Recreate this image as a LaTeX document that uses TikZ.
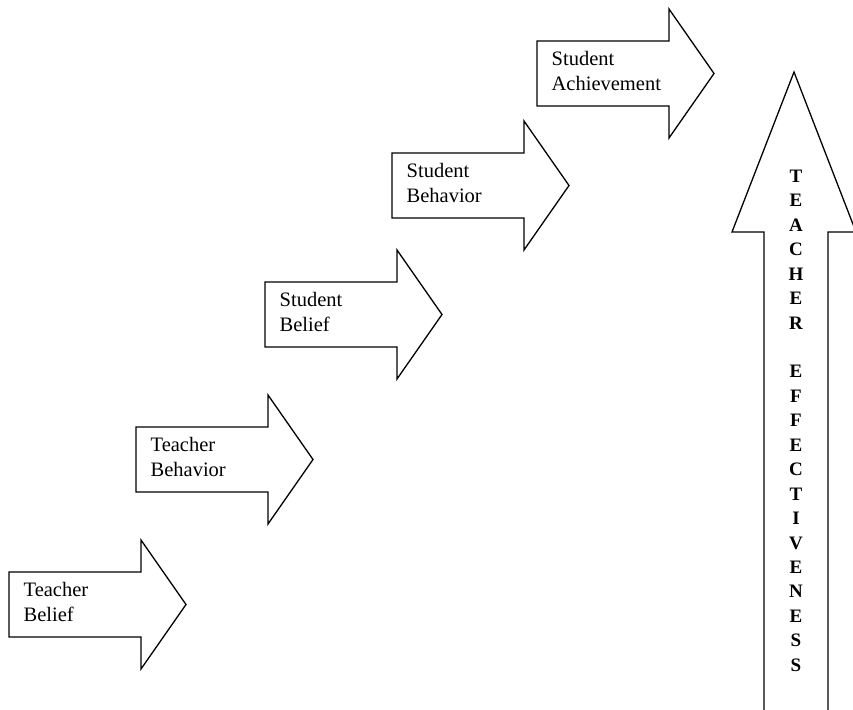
\documentclass[tikz,border=0pt]{standalone}
\usepackage{fontspec}
\setmainfont{Liberation Serif}
\usetikzlibrary{positioning}

\begin{document}
\begin{tikzpicture}[x=1pt,y=-1pt,line width=1.3pt,
  caption/.style={font=\fontsize{20.5}{25.5}\selectfont,align=left,inner sep=0pt},
  upright/.style={font=\fontsize{19}{24.45}\selectfont\bfseries,align=center,inner sep=0pt}]

\clip (0,0) rectangle (853,709);

\coordinate (TBel) at (9,572);
\coordinate (TBeh) at (136,427);
\coordinate (SBel) at (265,282);
\coordinate (SBeh) at (392,153);
\coordinate (SAch) at (537,41);
\coordinate (TEtip) at (794,72);

\draw (TBel) -- ++(132,0) -- ++(0,-32) -- ++(45,64.5) -- ++(-45,64.5) -- ++(0,-32) -- ++(-132,0) -- cycle;
\draw (TBeh) -- ++(132,0) -- ++(0,-32) -- ++(45,64.5) -- ++(-45,64.5) -- ++(0,-32) -- ++(-132,0) -- cycle;
\draw (SBel) -- ++(132,0) -- ++(0,-32) -- ++(45,64.5) -- ++(-45,64.5) -- ++(0,-32) -- ++(-132,0) -- cycle;
\draw (SBeh) -- ++(132,0) -- ++(0,-32) -- ++(45,64.5) -- ++(-45,64.5) -- ++(0,-32) -- ++(-132,0) -- cycle;
\draw (SAch) -- ++(132,0) -- ++(0,-32) -- ++(45,64.5) -- ++(-45,64.5) -- ++(0,-32) -- ++(-132,0) -- cycle;

\node[caption] (TBelText) [below right=9.3pt and 14pt of TBel] {Teacher\\Belief};
\node[caption] (TBehText) [below right=9.3pt and 14pt of TBeh] {Teacher\\Behavior};
\node[caption] (SBelText) [below right=9.3pt and 14pt of SBel] {Student\\Belief};
\node[caption] (SBehText) [below right=9.3pt and 14pt of SBeh] {Student\\Behavior};
\node[caption] (SAchText) [below right=9.3pt and 14pt of SAch] {Student\\Achievement};

\draw (764,712) |- (732,232) -- (TEtip) -- (856,232) -| (828,712);
\node[upright,anchor=north] (TEText) at (796,169.2)
  {T\\E\\A\\C\\H\\E\\R\\[24.45pt]E\\F\\F\\E\\C\\T\\I\\V\\E\\N\\E\\S\\S};

\end{tikzpicture}
\end{document}
